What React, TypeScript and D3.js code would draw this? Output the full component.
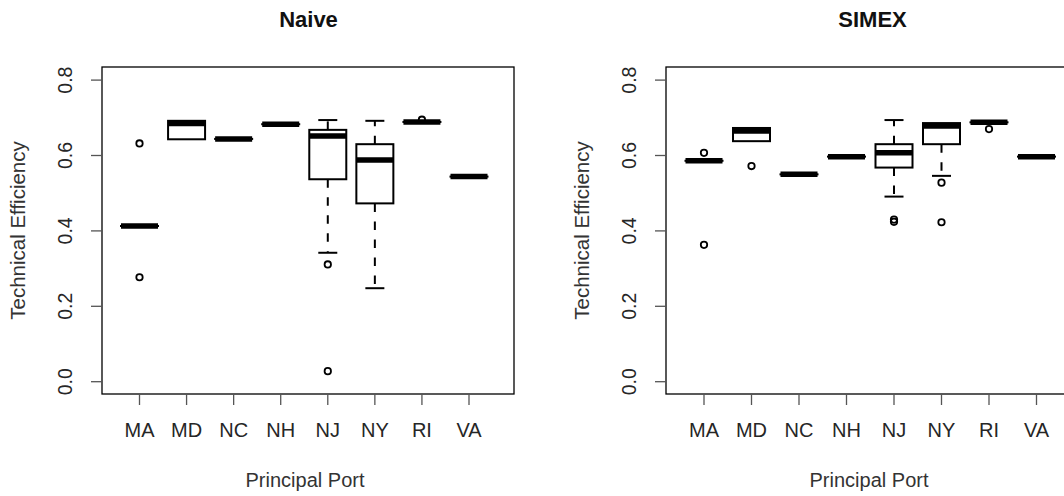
import React from "react";
import * as d3 from "d3";

const categories = ["MA", "MD", "NC", "NH", "NJ", "NY", "RI", "VA"];
const yTicks = [0.0, 0.2, 0.4, 0.6, 0.8];

// [lower whisker, Q1, median, Q3, upper whisker]
const naiveStats: number[][] = [
  [0.413, 0.413, 0.413, 0.413, 0.413],
  [0.643, 0.643, 0.685, 0.692, 0.692],
  [0.644, 0.644, 0.644, 0.644, 0.644],
  [0.683, 0.683, 0.683, 0.683, 0.683],
  [0.342, 0.537, 0.652, 0.668, 0.694],
  [0.248, 0.473, 0.588, 0.630, 0.692],
  [0.689, 0.689, 0.689, 0.689, 0.689],
  [0.544, 0.544, 0.544, 0.544, 0.544],
];
const naiveOutliers: number[][] = [
  [0.632, 0.277],
  [],
  [],
  [],
  [0.311, 0.028],
  [],
  [0.695],
  [],
];

const simexStats: number[][] = [
  [0.586, 0.586, 0.586, 0.586, 0.586],
  [0.638, 0.638, 0.665, 0.673, 0.673],
  [0.550, 0.550, 0.550, 0.550, 0.550],
  [0.597, 0.597, 0.597, 0.597, 0.597],
  [0.491, 0.568, 0.607, 0.630, 0.694],
  [0.546, 0.630, 0.678, 0.686, 0.686],
  [0.688, 0.688, 0.688, 0.688, 0.688],
  [0.597, 0.597, 0.597, 0.597, 0.597],
];
const simexOutliers: number[][] = [
  [0.607, 0.363],
  [0.572],
  [],
  [],
  [0.430, 0.424],
  [0.528, 0.423],
  [0.670],
  [],
];

const FONT = "'Liberation Sans', Arial, sans-serif";
const TEXT = "#262626";

type PanelProps = {
  title: string;
  stats: number[][];
  outliers: number[][];
  offset: number;
  tickRange: [number, number];
};

function Panel({ title, stats, outliers, offset, tickRange }: PanelProps) {
  const left = 102 + offset;
  const right = 514 + offset;
  const top = 67;
  const bottom = 394;
  const y = d3.scaleLinear().domain([0, 0.8]).range([381.7, 80.1]);
  const x = d3.scalePoint<string>().domain(categories).range(tickRange);
  const boxW = 37;
  const capW = 19;
  const midY = (top + bottom) / 2;
  const midX = (left + right) / 2;

  return (
    <g>
      <text
        x={(left + right) / 2 + 0.5}
        y={27}
        textAnchor="middle"
        fontFamily={FONT}
        fontWeight="bold"
        fontSize={22}
        fill="#111"
      >
        {title}
      </text>
      {/* boxes */}
      {categories.map((c, i) => {
        const cx = x(c)!;
        const [lo, q1, med, q3, hi] = stats[i];
        return (
          <g key={c}>
            {hi > q3 && (
              <>
                <line x1={cx} x2={cx} y1={y(q3)} y2={y(hi)} stroke="#000" strokeWidth={2} strokeDasharray="8.5 9.5" />
                <line x1={cx - capW / 2} x2={cx + capW / 2} y1={y(hi)} y2={y(hi)} stroke="#000" strokeWidth={2} />
              </>
            )}
            {lo < q1 && (
              <>
                <line x1={cx} x2={cx} y1={y(q1)} y2={y(lo)} stroke="#000" strokeWidth={2} strokeDasharray="8.5 9.5" />
                <line x1={cx - capW / 2} x2={cx + capW / 2} y1={y(lo)} y2={y(lo)} stroke="#000" strokeWidth={2} />
              </>
            )}
            <rect
              x={cx - boxW / 2}
              y={y(q3)}
              width={boxW}
              height={Math.max(0.01, y(q1) - y(q3))}
              fill="#fff"
              stroke="#000"
              strokeWidth={2}
            />
            <line
              x1={cx - boxW / 2}
              x2={cx + boxW / 2}
              y1={y(med)}
              y2={y(med)}
              stroke="#000"
              strokeWidth={5.5}
            />
            {outliers[i].map((o, j) => (
              <circle key={j} cx={cx} cy={y(o)} r={3.2} fill="none" stroke="#000" strokeWidth={1.8} />
            ))}
          </g>
        );
      })}
      {/* frame */}
      <rect x={left} y={top} width={right - left} height={bottom - top} fill="none" stroke="#000" strokeWidth={1.3} />
      {/* y axis */}
      {yTicks.map((t) => (
        <g key={t}>
          <line x1={left - 11} x2={left} y1={y(t)} y2={y(t)} stroke="#555" strokeWidth={1.3} />
          <text
            transform={`translate(${72 + offset},${y(t)}) rotate(-90)`}
            textAnchor="middle"
            fontFamily={FONT}
            fontSize={19.5}
            fill={TEXT}
          >
            {t.toFixed(1)}
          </text>
        </g>
      ))}
      {/* x axis */}
      {categories.map((c) => (
        <g key={c}>
          <line x1={x(c)!} x2={x(c)!} y1={bottom} y2={bottom + 11} stroke="#555" strokeWidth={1.3} />
          <text x={x(c)!} y={437.3} textAnchor="middle" fontFamily={FONT} fontSize={20} fill={TEXT}>
            {c}
          </text>
        </g>
      ))}
      <text x={midX - 3} y={487} textAnchor="middle" fontFamily={FONT} fontSize={20} fill="#333">
        Principal Port
      </text>
      <text
        transform={`translate(${25 + offset},${midY}) rotate(-90)`}
        textAnchor="middle"
        fontFamily={FONT}
        fontSize={20.5}
        fill="#333"
      >
        Technical Efficiency
      </text>
    </g>
  );
}

export default function App() {
  return (
    <svg
      width={1064}
      height={496}
      style={{ position: "absolute", left: 0, top: 0, background: "#fff" }}
    >
      <rect x={0} y={0} width={1064} height={496} fill="#fff" />
      <Panel title="Naive" stats={naiveStats} outliers={naiveOutliers} offset={0} tickRange={[139.5, 469]} />
      <Panel title="SIMEX" stats={simexStats} outliers={simexOutliers} offset={564} tickRange={[704, 1036.5]} />
    </svg>
  );
}
